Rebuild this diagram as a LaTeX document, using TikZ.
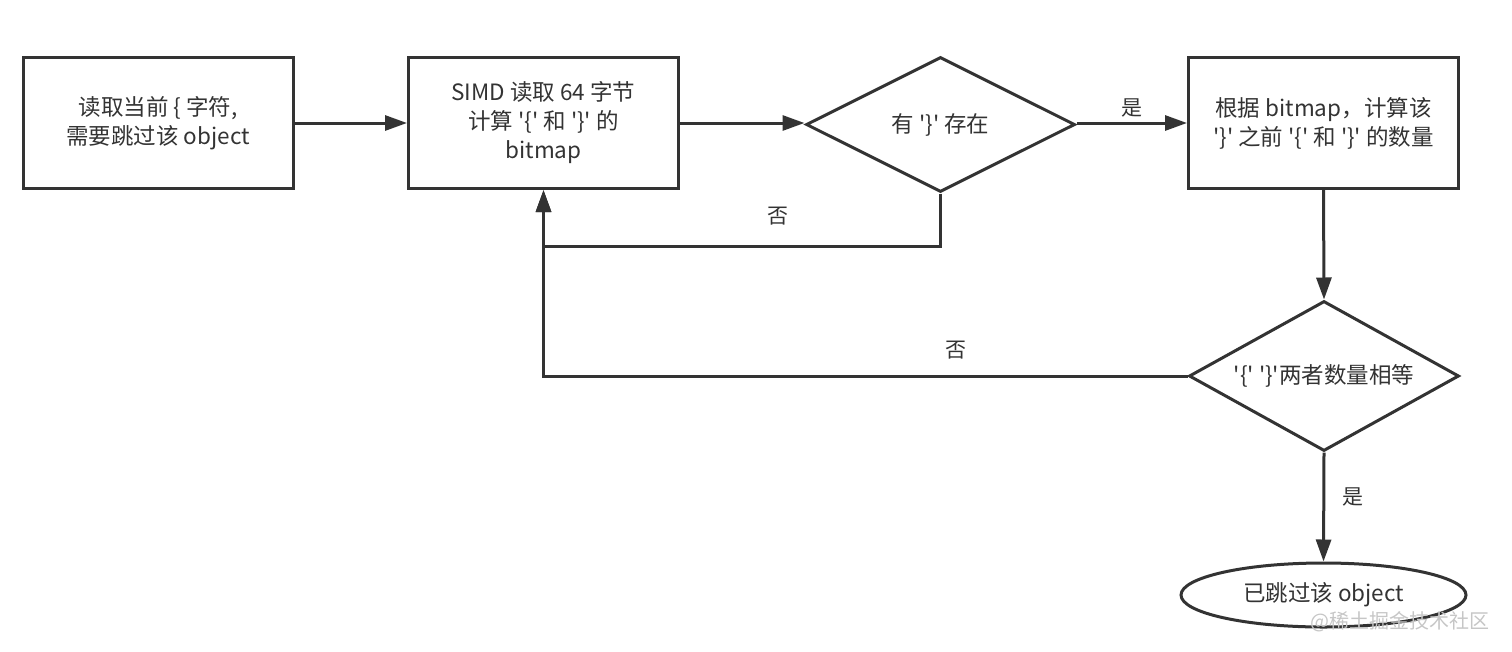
\documentclass[tikz,border=0pt]{standalone}
\usepackage{fontspec}
\newfontfamily\cjk{Noto Sans CJK SC}
\usetikzlibrary{shapes.geometric,arrows.meta}
\definecolor{ink}{HTML}{333333}
\begin{document}
\begin{tikzpicture}[x=1pt,y=-1pt,
  every node/.style={text=ink,font=\cjk\fontsize{22.5}{29}\selectfont,align=center},
  boxnode/.style={draw=ink,line width=3pt,minimum width=270pt,minimum height=131pt,inner sep=0pt},
  decnode/.style={draw=ink,line width=3pt,diamond,inner sep=0pt,aspect=2},
  endnode/.style={draw=ink,line width=3pt,ellipse,minimum width=285pt,minimum height=64pt,inner sep=0pt},
  conn/.style={draw=ink,line width=3pt,-{Triangle[length=22pt,width=15pt]}},
  lab/.style={font=\cjk\fontsize{21}{24}\selectfont}]
\useasboundingbox (0,0) rectangle (1512,651);
\node[boxnode] (b1) at (158,123) {读取当前 \{ 字符,\\需要跳过该 object};
\node[boxnode] (b2) at (543.5,123) {SIMD 读取 64 字节\\计算 '\{' 和 '\}' 的\\bitmap};
\node[decnode,minimum width=269pt,minimum height=135pt] (d1) at (940.5,124.5) {有 '\}' 存在};
\node[boxnode] (b3) at (1323.5,123) {根据 bitmap，计算该\\'\}' 之前 '\{' 和 '\}' 的数量};
\node[decnode,minimum width=270pt,minimum height=150pt] (d2) at (1324,376) {'\{' '\}'两者数量相等};
\node[endnode] (e) at (1323.5,595) {已跳过该 object};
\coordinate (c1) at (940.5,246);
\coordinate (c2) at (543.5,246);
\coordinate (c3) at (543.5,376);
\draw[conn] (b1.east |- 0,123) -- (b2.west |- 0,123);
\draw[conn] (b2.east |- 0,123) -- (d1.west |- 0,123);
\draw[conn] (d1.east |- 0,123) -- node[lab,above=1pt] {是} (b3.west |- 0,123);
\draw[conn] (b3.south) -- (d2.north);
\draw[conn] (d1.south) -- (c1) -- node[lab,pos=0.41,above=16pt] {否} (c2) -- (b2.south);
\draw[conn] (d2.west) -- node[lab,pos=0.36,above=12pt] {否} (c3) -- (b2.south);
\draw[conn] (d2.south) -- node[lab,right=14pt,pos=0.41] {是} (e.north);
\node[text=gray!45,font=\cjk\fontsize{20}{22}\selectfont,anchor=east] (wm) at (1493,622) {@稀土掘金技术社区};
\end{tikzpicture}
\end{document}
